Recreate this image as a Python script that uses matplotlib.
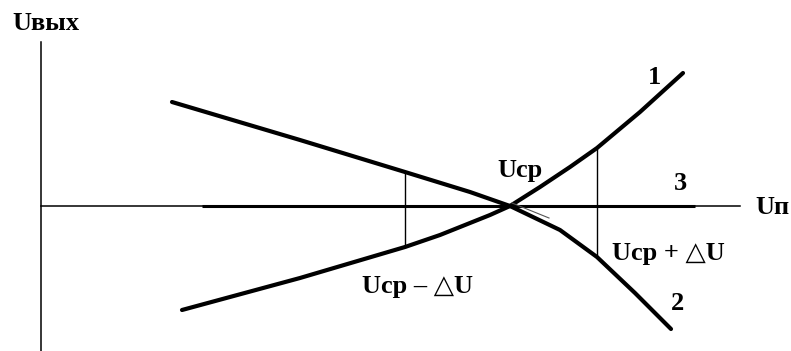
import matplotlib
matplotlib.use('Agg')
import matplotlib.pyplot as plt

# curve 1 (rising), curve 2 (falling), curve 3 (flat) in axis units
c1_x = [141, 259, 364, 399, 449, 469, 499, 529, 556, 599, 642]
c1_y = [-104, -72, -41, -29, -9, 0, 19, 39, 58, 94, 133]

c2_x = [131, 259, 364, 429, 469, 519, 556, 594, 630]
c2_y = [104, 66, 34, 14, 0, -24, -51, -87, -123]

c3_x = [161, 654]
c3_y = [0, 0]

# bounds of the window  Ucp - dU .. Ucp + dU
lo_x, lo_y = 364, (-41, 34)
hi_x, hi_y = 556, (-51, 58)

plt.rcParams['font.family'] = ['Liberation Serif', 'DejaVu Serif']

fig = plt.figure(figsize=(7.91, 3.51), dpi=100)
ax = fig.add_axes([0, 0, 1, 1])
ax.set_xlim(-41, 750)
ax.set_ylim(-145, 206)
ax.axis('off')

# axes
ax.plot([0, 699], [0, 0], color='black', lw=1.1)
ax.plot([0, 0], [-145, 164], color='black', lw=1.1)

ax.plot(c3_x, c3_y, color='black', lw=2.2, solid_capstyle='butt')
ax.plot(c1_x, c1_y, color='black', lw=3.0, solid_capstyle='round')
ax.plot(c2_x, c2_y, color='black', lw=3.0, solid_capstyle='round')
# faint second trace after crossing
ax.plot([471, 508], [3, -12], color='#555555', lw=0.8)

ax.plot([lo_x, lo_x], lo_y, color='black', lw=1.0)
ax.plot([hi_x, hi_x], hi_y, color='black', lw=1.0)

fs = 19
kw = dict(fontsize=fs, fontweight='bold', color='black')
ax.text(-29, 183, 'Uвых', ha='left', va='center', **kw)
ax.text(714, -2, 'Uп', ha='left', va='center', **kw)
ax.text(456, 29, 'Uср', ha='left', va='baseline', **kw)
ax.text(571, -54, 'Uср + △U', ha='left', va='baseline', **kw)
ax.text(321, -87, 'Uср – △U', ha='left', va='baseline', **kw)
ax.text(614, 128, '1', ha='center', va='center', **kw)
ax.text(637, -98, '2', ha='center', va='center', **kw)
ax.text(639, 23, '3', ha='center', va='center', **kw)

fig.savefig('out.png', dpi=100)
